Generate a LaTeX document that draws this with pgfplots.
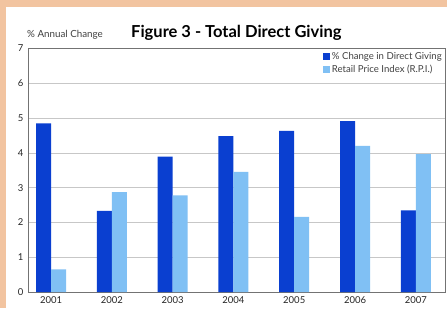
\documentclass[border=0pt]{standalone}
\usepackage{pgfplots}
\pgfplotsset{compat=1.18}
\usepackage{fontspec}
\setmainfont{Lato}
\definecolor{peach}{HTML}{F2C4A0}
\definecolor{darkb}{HTML}{0A3FD0}
\definecolor{lightb}{HTML}{80C0F4}
\begin{document}
\begin{tikzpicture}
\useasboundingbox (0pt,0pt) rectangle (447pt,308pt);
\fill[peach] (0pt,0pt) rectangle (447pt,308pt);
\fill[white] (6pt,0pt) rectangle (447pt,301pt);
\node[anchor=west, font=\fontsize{9.8}{11}\selectfont, text=black!75, inner sep=0pt] at (27pt,273pt) {\% Annual Change};
\node[anchor=west, font=\bfseries\fontsize{16.5}{19}\selectfont, inner sep=0pt] at (131pt,275pt) {Figure 3 - Total Direct Giving};
\begin{axis}[
  at={(28pt,16pt)}, anchor=south west, scale only axis,
  width=417pt, height=243.5pt,
  ymin=0, ymax=7, xmin=-0.38, xmax=6.48,
  ybar=0pt, bar width=15pt,
  area legend,
  legend image code/.code={\fill[#1] (0pt,-3.5pt) rectangle (7pt,3.5pt);},
  xtick={0,1,2,3,4,5,6},
  xticklabels={2001,2002,2003,2004,2005,2006,2007},
  ytick={0,1,2,3,4,5,6,7},
  major tick length=0pt,
  ymajorgrids, grid style={black!22, line width=0.6pt},
  axis line style={black!55, line width=0.7pt},
  tick label style={font=\fontsize{9.5}{11}\selectfont, text=black!85},
  /pgf/number format/assume math mode=true,
  yticklabel style={xshift=-1pt},
  xticklabel style={yshift=-1.5pt},
  legend style={at={(1,1)}, anchor=north east, draw=none, fill=none,
    font=\fontsize{9.6}{11}\selectfont, text=black!75, row sep=0pt,
    xshift=2pt, yshift=0pt},
  legend cell align=left,
]
\addplot[fill=darkb, draw=none] coordinates {(0,4.85) (1,2.33) (2,3.89) (3,4.48) (4,4.63) (5,4.91) (6,2.35)};
\addplot[fill=lightb, draw=none] coordinates {(0,0.65) (1,2.87) (2,2.78) (3,3.45) (4,2.16) (5,4.20) (6,3.96)};
\legend{\% Change in Direct Giving, Retail Price Index (R.P.I.)}
\end{axis}
\end{tikzpicture}
\end{document}
